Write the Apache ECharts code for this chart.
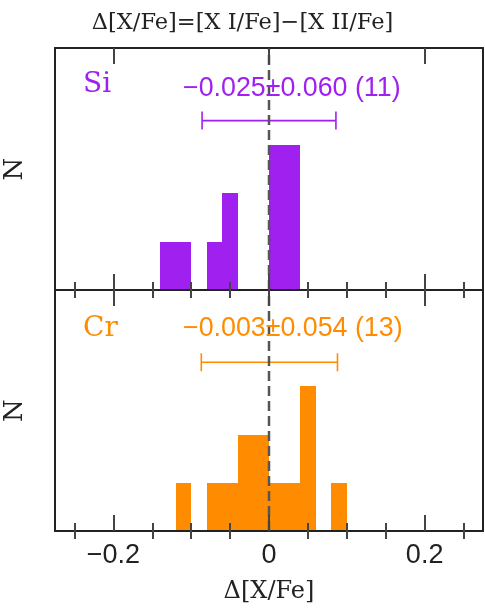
<!DOCTYPE html>
<html>
<head>
<meta charset="utf-8">
<script src="https://cdn.jsdelivr.net/npm/echarts@6/dist/echarts.min.js"></script>
<style>html,body{margin:0;padding:0;background:#fff;}#main{width:485px;height:610px;}</style>
</head>
<body>
<div id="main"></div>
<script>
// ---- data ----
const binWidth = 0.02;
const siBinStart = [-0.14, -0.12, -0.08, -0.06, 0.00, 0.02];
const siCounts   = [1, 1, 1, 2, 3, 3];
const crBinStart = [-0.12, -0.08, -0.06, -0.04, -0.02, 0.00, 0.02, 0.04, 0.08];
const crCounts   = [1, 1, 1, 2, 2, 1, 1, 3, 1];
const elements   = ['Si', 'Cr'];
const statLabels = ['\u22120.025\u00b10.060 (11)', '\u22120.003\u00b10.054 (13)'];
const errLow     = [-0.086, -0.087];
const errHigh    = [0.086, 0.088];
const errLevel   = [3.5, 3.5];
const zeroLineX  = [0, 0];
const zeroLineY  = [0, 5];
const majorTicks = [-0.2, 0, 0.2];
const minorTicks = [-0.25, -0.15, -0.1, -0.05, 0.05, 0.1, 0.15, 0.25];
const tickLabels = ['\u22120.2', '0', '0.2'];
const titleText  = '\u0394[X/Fe]=[X I/Fe]\u2212[X II/Fe]';
const xName      = '\u0394[X/Fe]';
const yName      = 'N';

// ---- styles ----
const colors = ['#a020f0', '#ff8c00'];
const frameColor = '#222';
const tickColor = '#444';
const grids = [
  {left: 55, top: 48, width: 428, height: 242},
  {left: 55, top: 290, width: 428, height: 241}
];
const X_MIN = -0.275, X_MAX = 0.275;

const chart = echarts.init(document.getElementById('main'), null, {renderer: 'canvas'});

const xAxes = [];
const yAxes = [];
grids.forEach((g, gi) => {
  ['bottom', 'top'].forEach(pos => {
    const isLabelAxis = (gi === 1 && pos === 'bottom');
    xAxes.push({
      type: 'value', gridIndex: gi, position: pos, min: X_MIN, max: X_MAX, z: 10,
      axisLine: {show: true, onZero: false, lineStyle: {color: frameColor, width: 2}},
      axisTick: {show: true, inside: true, length: 16, customValues: majorTicks,
                 lineStyle: {color: tickColor, width: 2}},
      axisLabel: isLabelAxis ? {
        show: true, customValues: majorTicks, margin: 11,
        fontFamily: 'Liberation Sans', fontSize: 27, color: '#222',
        formatter: v => tickLabels[majorTicks.findIndex(t => Math.abs(t - v) < 1e-9)]
      } : {show: false},
      splitLine: {show: false},
      name: isLabelAxis ? xName : '',
      nameLocation: 'middle', nameGap: 49,
      nameTextStyle: {fontFamily: 'DejaVu Serif', fontSize: 24, color: '#222'}
    });
    xAxes.push({
      type: 'value', gridIndex: gi, position: pos, min: X_MIN, max: X_MAX, z: 10,
      axisLine: {show: false},
      axisTick: {show: true, inside: true, length: 8, customValues: minorTicks,
                 lineStyle: {color: tickColor, width: 2}},
      axisLabel: {show: false},
      splitLine: {show: false}
    });
  });
  ['left', 'right'].forEach(pos => {
    yAxes.push({
      type: 'value', gridIndex: gi, position: pos, min: 0, max: 5, z: 10,
      axisLine: {show: true, onZero: false, lineStyle: {color: frameColor, width: 2}},
      axisTick: {show: false}, axisLabel: {show: false}, splitLine: {show: false},
      name: pos === 'left' ? yName : '',
      nameLocation: 'middle', nameRotate: 90, nameGap: 27,
      nameTextStyle: {fontFamily: 'DejaVu Serif', fontSize: 26, color: '#222'}
    });
  });
});

function histItem(params, api) {
  const x0 = api.value(0), c = api.value(1);
  const a = api.coord([x0, c]);
  const b = api.coord([x0 + binWidth, 0]);
  const left = Math.round(a[0]), right = Math.round(b[0]);
  const top = Math.round(a[1]), bottom = Math.round(b[1]);
  return {type: 'rect', shape: {x: left, y: top, width: right - left, height: bottom - top},
          style: {fill: api.visual('color')}};
}
function errItem(params, api) {
  const lo = api.value(0), hi = api.value(1), y = api.value(2);
  const p0 = api.coord([lo, y]), p1 = api.coord([hi, y]);
  const st = {stroke: api.visual('color'), lineWidth: 1.6};
  return {type: 'group', children: [
    {type: 'line', shape: {x1: p0[0], y1: p0[1], x2: p1[0], y2: p1[1]}, style: st},
    {type: 'line', shape: {x1: p0[0], y1: p0[1] - 9, x2: p0[0], y2: p0[1] + 9}, style: st},
    {type: 'line', shape: {x1: p1[0], y1: p1[1] - 9, x2: p1[0], y2: p1[1] + 9}, style: st}
  ]};
}

const histData = [
  siBinStart.map((s, i) => [s, siCounts[i]]),
  crBinStart.map((s, i) => [s, crCounts[i]])
];

const series = [];
grids.forEach((g, gi) => {
  const xi = gi * 4, yi = gi * 2;
  series.push({
    type: 'custom', name: elements[gi], xAxisIndex: xi, yAxisIndex: yi,
    renderItem: histItem, data: histData[gi], encode: {x: 0, y: 1},
    itemStyle: {color: colors[gi]}, z: 2, silent: true
  });
  series.push({
    type: 'custom', xAxisIndex: xi, yAxisIndex: yi,
    renderItem: errItem, data: [[errLow[gi], errHigh[gi], errLevel[gi]]],
    encode: {x: [0, 1], y: 2},
    itemStyle: {color: colors[gi]}, z: 3, silent: true
  });
  series.push({
    type: 'line', xAxisIndex: xi, yAxisIndex: yi,
    data: zeroLineX.map((x, i) => [x, zeroLineY[i]]),
    symbol: 'none', silent: true, z: 5,
    lineStyle: {color: '#555', width: 2.5, type: [10, 5]}
  });
});

const textY = [[88, 90.5], [332, 331]];
const graphics = [];
grids.forEach((g, gi) => {
  graphics.push({
    type: 'text', left: 83, top: textY[gi][0] - 17, z: 20,
    style: {text: elements[gi], fill: colors[gi], font: '28px "DejaVu Serif"'}
  });
  graphics.push({
    type: 'text', left: 183, top: textY[gi][1] - 15.5, z: 20,
    style: {text: statLabels[gi], fill: colors[gi], font: '26.8px "Liberation Sans"'}
  });
});

chart.setOption({
  animation: false,
  backgroundColor: '#fff',
  title: {text: titleText, left: 'center', top: 7,
          textStyle: {fontFamily: 'DejaVu Serif', fontSize: 22.5, fontWeight: 'normal', color: '#222'}},
  grid: grids.map(g => Object.assign({containLabel: false, outerBoundsMode: 'none'}, g)),
  xAxis: xAxes,
  yAxis: yAxes,
  series: series,
  graphic: graphics
});
</script>
</body>
</html>
